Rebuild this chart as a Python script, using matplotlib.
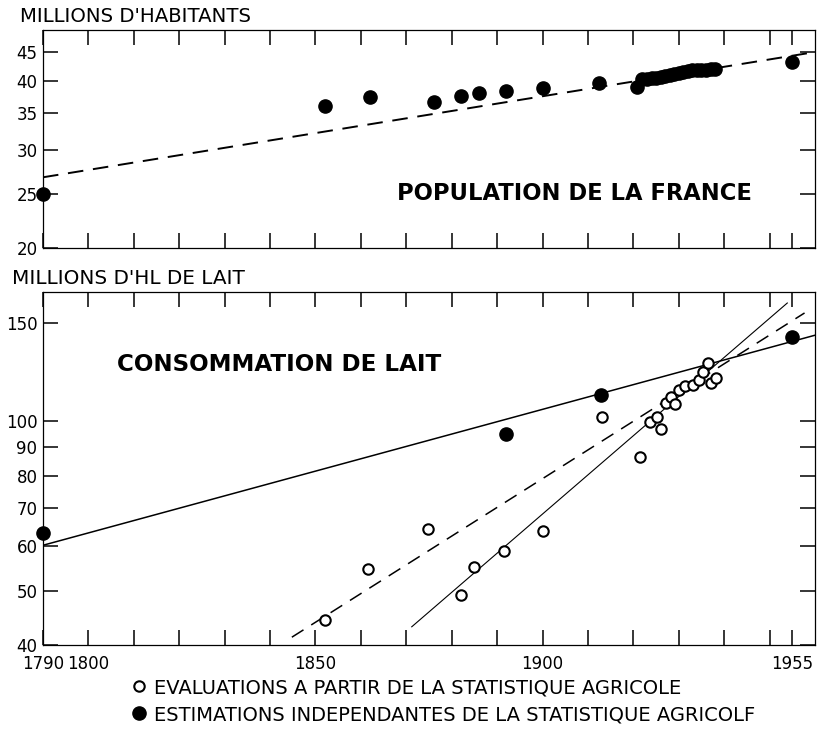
# -*- coding: utf-8 -*-

import numpy as np
import matplotlib
matplotlib.use("Agg")
import matplotlib.pyplot as plt
from matplotlib.ticker import FixedLocator, NullLocator

plt.rcParams['font.family'] = ['DejaVu Sans']

# population de la France (millions d'habitants)
pop_years = [1790, 1852, 1862, 1876, 1882, 1886, 1892, 1900, 1912.5, 1920.7,
             1922, 1923, 1924, 1925, 1926, 1927, 1928, 1929, 1930, 1931,
             1932, 1933, 1934, 1935, 1936, 1937, 1938, 1955]
pop_vals = [25.0, 36.0, 37.4, 36.6, 37.5, 38.0, 38.3, 38.8, 39.6, 38.9,
            40.2, 40.3, 40.4, 40.5, 40.6, 40.7, 40.9, 41.1, 41.3, 41.5,
            41.6, 41.7, 41.7, 41.8, 41.8, 41.9, 42.0, 43.2]
pop_trend_years = [1790, 1960]
pop_trend_vals = [26.8, 45.0]

# consommation de lait (millions d'hl)
eval_years = [1852, 1861.5, 1874.7, 1882, 1885, 1891.6, 1900, 1913, 1921.4,
              1923.7, 1925.2, 1926.1, 1927.2, 1928.3, 1929.2, 1930, 1931.4,
              1933.1, 1934.4, 1935.3, 1936.4, 1937, 1938.2]
eval_vals = [44.3, 54.6, 64.3, 49.1, 55.1, 58.9, 63.8, 101.8, 86.3,
             99.9, 101.7, 96.9, 107.7, 110.4, 107.3, 113.7, 115.7,
             116.1, 118.5, 122.3, 127.2, 116.9, 119.3]
estim_years = [1790, 1892, 1912.8, 1955]
estim_vals = [63.3, 95.0, 111.4, 141.3]

estim_trend_years = [1790, 1960]
estim_trend_vals = [60.2, 142.4]
eval_dash_years = [1844.8, 1957.7]
eval_dash_vals = [41.3, 156.0]
eval_steep_years = [1871.2, 1953.9]
eval_steep_vals = [43.1, 162.5]

xticks = list(range(1790, 1951, 10)) + [1955]
xlabels = {1790: '1790', 1800: '1800', 1850: '1850', 1900: '1900', 1955: '1955'}
pop_yticks = [20, 25, 30, 35, 40, 45]
lait_yticks = [40, 50, 60, 70, 80, 90, 100, 150]

W, H = 819, 730
fig = plt.figure(figsize=(W / 100, H / 100), dpi=100)
ax1 = fig.add_axes([43 / W, 1 - 248 / H, (815 - 43) / W, (248 - 30) / H])
ax2 = fig.add_axes([43 / W, 1 - 645 / H, (815 - 43) / W, (645 - 292) / H])


def style(ax, yticks, ylim):
    ax.set_yscale('log')
    ax.set_xlim(1790, 1960)
    ax.set_ylim(*ylim)
    ax.xaxis.set_major_locator(FixedLocator(xticks))
    ax.set_xticklabels([xlabels.get(t, '') for t in xticks])
    ax.yaxis.set_major_locator(FixedLocator(yticks))
    ax.yaxis.set_minor_locator(NullLocator())
    ax.set_yticklabels([str(t) for t in yticks])
    ax.tick_params(which='major', direction='in', length=11, width=1.1,
                   top=True, right=True, labelsize=12, pad=4)
    ax.tick_params(axis='x', pad=7)
    for s in ax.spines.values():
        s.set_linewidth(0.9)


style(ax1, pop_yticks, (20, 49.3))
ax1.tick_params(labelbottom=False)
ax1.plot(pop_trend_years, pop_trend_vals, color='black', lw=1.4,
         linestyle=(0, (8, 5)))
ax1.plot(pop_years, pop_vals, 'o', color='black', ms=9.5, clip_on=False, zorder=3)
ax1.text(0.689, 0.25, 'POPULATION DE LA FRANCE', transform=ax1.transAxes,
         ha='center', va='center', fontsize=16.3, fontweight='bold')

style(ax2, lait_yticks, (40, 170))
ax2.plot(estim_trend_years, estim_trend_vals, color='black', lw=1.1)
ax2.plot(eval_dash_years, eval_dash_vals, color='black', lw=1.1,
         linestyle=(0, (9, 6)))
ax2.plot(eval_steep_years, eval_steep_vals, color='black', lw=0.8)
h_open, = ax2.plot(eval_years, eval_vals, 'o', mfc='white', mec='black',
                   mew=1.5, ms=7.5, zorder=3)
h_fill, = ax2.plot(estim_years, estim_vals, 'o', color='black', ms=9.5,
                   clip_on=False, zorder=3)
ax2.text(0.3057, 0.796, 'CONSOMMATION DE LAIT', transform=ax2.transAxes,
         ha='center', va='center', fontsize=16.6, fontweight='bold')

fig.text(20 / W, 1 - 16 / H, "MILLIONS D'HABITANTS", fontsize=14.2,
         ha='left', va='center')
fig.text(12 / W, 1 - 278 / H, "MILLIONS D'HL DE LAIT", fontsize=14.4,
         ha='left', va='center')

fig.legend([h_open, h_fill],
           ['EVALUATIONS A PARTIR DE LA STATISTIQUE AGRICOLE',
            'ESTIMATIONS INDEPENDANTES DE LA STATISTIQUE AGRICOLF'],
           loc='upper left', bbox_to_anchor=(132 / W, 1 - 678 / H),
           frameon=False, fontsize=14, handlelength=0.7, handletextpad=0.45,
           labelspacing=0.42, borderpad=0, borderaxespad=0)

fig.savefig('out.png', dpi=100)
